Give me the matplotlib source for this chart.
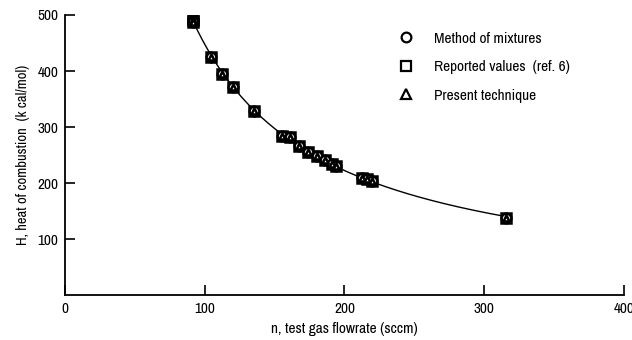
import numpy as np
import matplotlib
matplotlib.use("Agg")
import matplotlib.pyplot as plt

plt.rcParams['font.family'] = ['Archivo Narrow', 'DejaVu Sans']

# Data
flow = [91.6, 91.6, 104.5, 112.4, 120.3, 135.3, 155.3, 161.0, 167.5, 174.0,
        180.0, 186.0, 191.0, 194.0, 212.6, 216.0, 220.0, 315.7]
heat_mix = [491, 487, 425, 395, 372, 329, 284, 282, 266, 256,
            249, 241, 234, 231, 209, 207, 204, 138]
heat_ref = [491, 487, 425, 395, 372, 329, 284, 282, 266, 256,
            249, 241, 234, 231, 209, 207, 204, 138]
heat_present = [491, 487, 425, 395, 372, 329, 284, 282, 266, 256,
                249, 241, 234, 231, 209, 207, 204, 138]

xticks = [0, 100, 200, 300, 400]
yticks = [100, 200, 300, 400, 500]

fig = plt.figure(figsize=(6.32, 3.4), dpi=100)
ax = fig.add_axes([0.103, 0.131, 0.884, 0.825])

# fitted curve (power law through the data)
lx = np.log(np.array(flow))
ly = np.log(np.array(heat_present))
b, a = np.polyfit(lx, ly, 1)
xc = np.linspace(min(flow), max(flow) + 4, 200)
ax.plot(xc, np.exp(a) * xc ** b, color='black', lw=1.0, zorder=1)

mk = dict(linestyle='none', markerfacecolor='white', markeredgecolor='black',
          markeredgewidth=1.8, zorder=3)
ax.plot(flow, heat_ref, marker='s', markersize=7, label='Reported values  (ref. 6)', **mk)
ax.plot(flow, heat_mix, marker='o', markersize=7, label='Method of mixtures', **mk)
ax.plot(flow, heat_present, marker='^', markersize=5, label='Present technique', **mk)

handles, labels = ax.get_legend_handles_labels()
order = [1, 0, 2]
leg = ax.legend([handles[i] for i in order], [labels[i] for i in order],
                loc='upper left', bbox_to_anchor=(0.572, 0.99), frameon=False,
                fontsize=11, handletextpad=1.3, labelspacing=0.95,
                handlelength=1.0)
for h in leg.legend_handles:
    h.set_markeredgewidth(1.6)
    h.set_markersize(7)

ax.set_xlim(0, 400)
ax.set_ylim(0, 500)
ax.set_xticks(xticks)
ax.set_yticks(yticks)
ax.tick_params(direction='in', length=7, width=1.2, labelsize=11)
ax.tick_params(axis='y', pad=5)
ax.tick_params(axis='x', pad=5)
for s in ['top', 'right']:
    ax.spines[s].set_visible(False)
for s in ['left', 'bottom']:
    ax.spines[s].set_linewidth(1.3)

ax.set_xlabel('n, test gas flowrate (sccm)', fontsize=11, labelpad=4)
ax.set_ylabel('H, heat of combustion  (k cal/mol)', fontsize=10.5, labelpad=5)

fig.savefig('out.png', dpi=100)
